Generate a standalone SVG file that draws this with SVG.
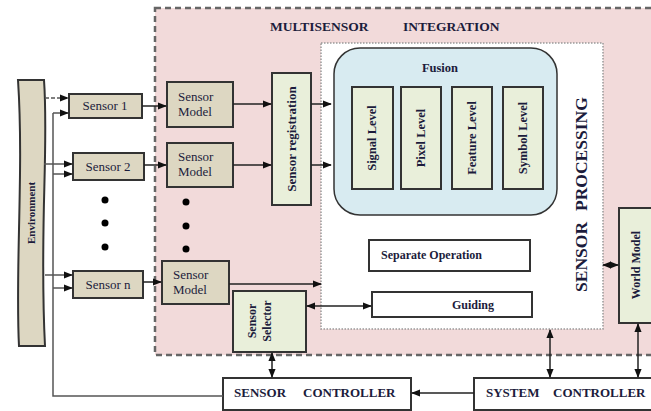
<svg xmlns="http://www.w3.org/2000/svg" width="651" height="411" viewBox="0 0 651 411">
<defs>
<marker id="ah" viewBox="0 0 10 10" refX="9" refY="5" markerWidth="9" markerHeight="9" markerUnits="userSpaceOnUse" orient="auto-start-reverse">
<path d="M0,1 L10,5 L0,9 Z" fill="#111"/>
</marker>
<style>
.box{stroke:#333;stroke-width:2}
.tan{fill:#ddd7c2}
.grn{fill:#e9efda}
.wht{fill:#fff}
.t{font-family:"Liberation Serif",serif;fill:#1c1c3c}
.b{font-weight:bold}
.ln{stroke:#222;stroke-width:1.5;fill:none}
.gl{stroke:#555;stroke-width:1.5;fill:none}
</style>
</defs>
<rect width="651" height="411" fill="#fff"/>

<g id="multisensor-integration">
<rect x="155" y="8" width="510" height="347" fill="#f2dada" stroke="#666" stroke-width="2.5" stroke-dasharray="6,4"/>
<text class="t b" x="270" y="31" font-size="13.5">MULTISENSOR</text>
<text class="t b" x="403" y="31" font-size="13.5">INTEGRATION</text>
</g>

<g id="sensor-processing">
<rect x="321" y="43" width="282" height="286" fill="#fff" stroke="#999" stroke-width="1.5" stroke-dasharray="1.5,1.5"/>
<g transform="translate(581,193) rotate(-90)">
<text class="t b" x="-99" y="6" font-size="17.5">SENSOR</text>
<text class="t b" x="-18" y="6" font-size="17.5">PROCESSING</text>
</g>
</g>

<g id="fusion">
<rect x="334" y="48" width="223" height="167" rx="26" fill="#d8ebf1" stroke="#333" stroke-width="1.5"/>
<text class="t b" x="440" y="72" font-size="12.5" text-anchor="middle">Fusion</text>
</g>
<g id="signal-level">
<rect class="box grn" x="352" y="87" width="41" height="102"/>
<text class="t b" font-size="12.5" text-anchor="middle" dominant-baseline="central" transform="translate(372,138) rotate(-90)">Signal Level</text>
</g>
<g id="pixel-level">
<rect class="box grn" x="401" y="87" width="40" height="102"/>
<text class="t b" font-size="12.5" text-anchor="middle" dominant-baseline="central" transform="translate(421,138) rotate(-90)">Pixel Level</text>
</g>
<g id="feature-level">
<rect class="box grn" x="452" y="87" width="40" height="102"/>
<text class="t b" font-size="12.5" text-anchor="middle" dominant-baseline="central" transform="translate(472,138) rotate(-90)">Feature Level</text>
</g>
<g id="symbol-level">
<rect class="box grn" x="503" y="87" width="40" height="102"/>
<text class="t b" font-size="12.5" text-anchor="middle" dominant-baseline="central" transform="translate(523,138) rotate(-90)">Symbol Level</text>
</g>

<g id="separate-operation">
<rect class="box wht" x="369" y="240" width="161" height="31"/>
<text class="t b" x="381" y="259" font-size="12">Separate Operation</text>
</g>
<g id="guiding">
<rect class="box wht" x="372" y="292" width="160" height="25"/>
<text class="t b" x="452" y="309" font-size="12">Guiding</text>
</g>

<g id="world-model">
<rect class="box grn" x="619" y="208" width="40" height="115"/>
<text class="t b" font-size="12" text-anchor="middle" dominant-baseline="central" transform="translate(636,265) rotate(-90)">World Model</text>
</g>

<g id="environment">
<path d="M18,80 L44,80 C49,150 39,230 45,346 L19,346 C15,270 24,170 18,80 Z" fill="#ddd7c2" stroke="#333" stroke-width="2"/>
<text class="t b" font-size="11" text-anchor="middle" dominant-baseline="central" transform="translate(31,213) rotate(-90)">Environment</text>
</g>

<g id="sensor-1">
<rect class="box tan" x="69" y="94" width="73" height="24"/>
<text class="t" x="105" y="110" font-size="13" text-anchor="middle">Sensor 1</text>
</g>
<g id="sensor-2">
<rect class="box tan" x="73" y="153" width="71" height="27"/>
<text class="t" x="108" y="171" font-size="13" text-anchor="middle">Sensor 2</text>
</g>
<g id="sensor-n">
<rect class="box tan" x="73" y="271" width="70" height="27"/>
<text class="t" x="108" y="289" font-size="13" text-anchor="middle">Sensor n</text>
</g>

<g id="dots-sensors" fill="#000">
<circle cx="105" cy="200" r="3.5"/>
<circle cx="105" cy="223" r="3.5"/>
<circle cx="105" cy="247" r="3.5"/>
</g>
<g id="dots-models" fill="#000">
<circle cx="186" cy="202" r="3.5"/>
<circle cx="186" cy="226" r="3.5"/>
<circle cx="186" cy="249" r="3.5"/>
</g>

<g id="sensor-model-1">
<rect class="box tan" x="167" y="82" width="66" height="45"/>
<text class="t" x="178" y="101" font-size="13">Sensor</text>
<text class="t" x="178" y="116" font-size="13">Model</text>
</g>
<g id="sensor-model-2">
<rect class="box tan" x="167" y="143" width="66" height="44"/>
<text class="t" x="178" y="161" font-size="13">Sensor</text>
<text class="t" x="178" y="176" font-size="13">Model</text>
</g>
<g id="sensor-model-n">
<rect class="box tan" x="162" y="261" width="67" height="43"/>
<text class="t" x="173" y="279" font-size="13">Sensor</text>
<text class="t" x="173" y="294" font-size="13">Model</text>
</g>

<g id="sensor-registration">
<rect class="box grn" x="272" y="73" width="39" height="132"/>
<text class="t b" font-size="13" text-anchor="middle" dominant-baseline="central" transform="translate(291,139) rotate(-90)">Sensor registration</text>
</g>

<g id="sensor-selector">
<rect class="box grn" x="233" y="291" width="73" height="61"/>
<g transform="translate(260,321) rotate(-90)">
<text class="t b" font-size="12" text-anchor="middle" x="0" y="-4">Sensor</text>
<text class="t b" font-size="12" text-anchor="middle" x="0" y="11">Selector</text>
</g>
</g>

<g id="sensor-controller">
<rect class="box wht" x="223" y="378" width="188" height="32"/>
<text class="t b" x="234" y="397" font-size="13">SENSOR</text>
<text class="t b" x="303" y="397" font-size="13">CONTROLLER</text>
</g>
<g id="system-controller">
<rect class="box wht" x="474" y="378" width="190" height="32"/>
<text class="t b" x="486" y="397" font-size="13">SYSTEM</text>
<text class="t b" x="553" y="397" font-size="13">CONTROLLER</text>
</g>

<g id="connectors">
<line class="gl" x1="45" y1="98" x2="68" y2="98" stroke-dasharray="4,2" marker-end="url(#ah)"/>
<line class="gl" x1="44" y1="164" x2="72" y2="164" marker-end="url(#ah)"/>
<line class="gl" x1="45" y1="275" x2="72" y2="275" marker-end="url(#ah)"/>
<path class="gl" d="M223,396 L53,396 L53,113"/>
<line class="gl" x1="53" y1="113" x2="68" y2="113" marker-end="url(#ah)"/>
<line class="gl" x1="53" y1="174" x2="72" y2="174" marker-end="url(#ah)"/>
<line class="gl" x1="53" y1="288" x2="72" y2="288" marker-end="url(#ah)"/>

<line class="ln" x1="142" y1="106" x2="166" y2="106" marker-end="url(#ah)"/>
<line class="ln" x1="144" y1="165" x2="166" y2="165" marker-end="url(#ah)"/>
<line class="ln" x1="143" y1="282" x2="161" y2="282" marker-end="url(#ah)"/>

<line class="ln" x1="233" y1="104" x2="271" y2="104" marker-end="url(#ah)"/>
<line class="ln" x1="233" y1="165" x2="271" y2="165" marker-end="url(#ah)"/>
<line class="ln" x1="311" y1="104" x2="331" y2="104" marker-end="url(#ah)"/>
<line class="ln" x1="311" y1="165" x2="331" y2="165" marker-end="url(#ah)"/>

<line class="ln" x1="229" y1="284" x2="321" y2="284" marker-end="url(#ah)"/>
<line class="ln" x1="307" y1="306" x2="371" y2="306" marker-start="url(#ah)" marker-end="url(#ah)"/>

<line class="ln" x1="603" y1="265" x2="618" y2="265" marker-start="url(#ah)" marker-end="url(#ah)"/>
<line class="ln" x1="550" y1="330" x2="550" y2="377" marker-start="url(#ah)" marker-end="url(#ah)"/>
<line class="ln" x1="638" y1="324" x2="638" y2="377" marker-start="url(#ah)" marker-end="url(#ah)"/>
<line class="ln" x1="272" y1="353" x2="272" y2="377" marker-start="url(#ah)" marker-end="url(#ah)"/>
<line class="ln" x1="474" y1="393" x2="412" y2="393" marker-end="url(#ah)"/>
</g>
</svg>
